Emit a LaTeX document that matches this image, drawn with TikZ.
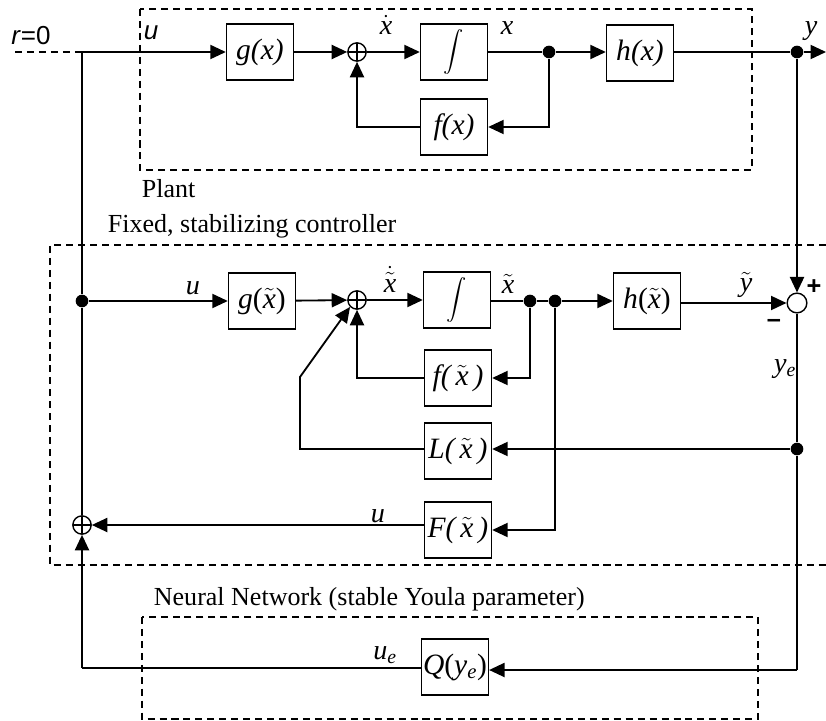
\documentclass[tikz,border=0pt]{standalone}
\usepackage{amsmath}
\usepackage{fontspec}
\setmainfont{Liberation Serif}
\setsansfont{Liberation Sans}
\usepackage{tikz}
\usetikzlibrary{arrows.meta, positioning, calc}

\newcommand{\vx}{\mbox{\itshape x}}
\newcommand{\xt}{\ensuremath{\tilde{\vx}}}
\newcommand{\sub}[1]{\textsubscript{\itshape #1}}

\tikzset{
  block/.style={draw, line width=1pt, minimum width=1.675cm, minimum height=1.4cm, inner sep=1pt, font=\fontsize{21}{24}\selectfont},
  sumplus/.style={draw, circle, line width=1pt, minimum size=13pt, inner sep=0pt,
    path picture={\draw [line width=1pt] (path picture bounding box.north) -- (path picture bounding box.south)
      (path picture bounding box.west) -- (path picture bounding box.east);}},
  sumopen/.style={draw, circle, line width=1pt, minimum size=14pt, inner sep=0pt},
  junc/.style={circle, fill, minimum size=9pt, inner sep=0pt},
  sig/.style={font=\fontsize{20}{24}\selectfont\itshape, inner sep=0pt},
  frame/.style={dash pattern=on 5pt off 3.5pt, line width=1pt},
  title/.style={font=\fontsize{18.5}{22}\selectfont, inner sep=0pt},
}

\begin{document}
\begin{tikzpicture}[x=0.025cm, y=-0.025cm, line width=1.3pt, >={Triangle[length=11pt,width=10pt]}]
\useasboundingbox (0,0) rectangle (826,721);

% plant
\draw [frame] (140,9) rectangle (752,170);
\node [title, anchor=north west] (plantlbl) at (141,179) {Plant};
\coordinate (r0) at (15,52);
\coordinate (uin) at (82,52);
\node [block] (g1) at (260,52) {\itshape g(x)};
\node [sumplus] (s1) at (357,52) {};
\node [block] (int1) at (454,52) {{\fontsize{14.5}{16}\selectfont$\displaystyle\int$}};
\node [junc] (d1) at (549,52) {};
\node [block] (h1) at (640,53) {\itshape h(x)};
\node [junc] (dy) at (797,52) {};
\coordinate (yend) at (826,52);
\node [block] (f1) at (454,127) {\itshape f(x)};

\draw [frame] (r0) -- (uin);
\draw [->] (uin) -- (g1);
\draw [->] (g1) -- (s1);
\draw [->] (s1) -- (int1);
\draw (int1) -- (d1);
\draw [->] (d1) -- (h1.west |- d1);
\draw (h1.east |- dy) -- (dy);
\draw [->] (dy) -- (yend);
\draw [->] (d1) |- (f1.east);
\draw [->] (f1.west) -| (s1.south);

\node [font=\fontsize{18.5}{22}\selectfont\sffamily, inner sep=0pt] (rlbl) at (31,36) {\textit{r}=0};
\node [font=\fontsize{18.5}{22}\selectfont\sffamily\itshape, inner sep=0pt] (ulbl1) at (151,33) {u};
\node [sig] (xdlbl) at (386,25) {$\dot{\vx}$};
\node [sig] (xlbl) at (507,28) {x};
\node [sig] (ylbl) at (811,31) {y};

% controller
\draw [frame] (826,245) -- (50,245) -- (50,565) -- (826,565);
\node [title, anchor=south west] (ctrllbl) at (107,239) {Fixed, stabilizing controller};
\node [junc] (dl) at (82,301) {};
\node [block] (g2) at (262,301) {\itshape g\upshape(\xt)};
\node [sumplus] (s2) at (357,300) {};
\node [block] (int2) at (457,300) {{\fontsize{14.5}{16}\selectfont$\displaystyle\int$}};
\node [junc] (d2a) at (530,301) {};
\node [junc] (d2b) at (555,301) {};
\node [block] (h2) at (647,301) {\itshape h\upshape(\xt)};
\node [sumopen] (s3) at (797,303) {};
\node [block] (f2) at (458,378) {\itshape f(\,\xt\,)};
\node [block] (l2) at (458,451) {\itshape L(\,\xt\,)};
\node [junc] (dr) at (797,449) {};
\node [block] (ff2) at (458,530) {\itshape F(\,\xt\,)};
\node [sumplus] (s4) at (82,525) {};
\coordinate (lbend) at (300,449);
\coordinate (lknee) at (300,377);

\draw (s4.north) -- (dl) -- (uin);
\draw [->] (dl) -- (g2);
\draw [->] (g2) -- (s2);
\draw [->] (s2) -- (int2);
\draw (int2.east |- d2a) -- (d2a) -- (d2b);
\draw [->] (d2b) -- (h2.west |- d2b);
\draw [->] (h2.east |- s3) -- (s3);
\draw [->] (dy) -- (s3.north);
\draw [->] (d2a) |- (f2.east);
\draw [->] (f2.west) -| (s2.south);
\draw (s3.south) -- (dr);
\draw [->] (dr) -- (l2.east |- dr);
\draw [->] (l2.west |- dr) -- (lbend) -- (lknee) -- (s2.south west);
\draw [->] (d2b) |- (ff2.east);
\draw [->] (ff2.west |- s4) -- (s4);

\node [sig] (ulbl2) at (193,288) {u};
\node [sig] (xddlbl) at (390,279) {$\dot{\xt}$};
\node [sig] (xtlbl) at (508,284) {\xt};
\node [sig] (ytlbl) at (746,285) {$\tilde{\mbox{\itshape y}}$};
\node [font=\fontsize{18}{20}\selectfont\sffamily\bfseries, inner sep=0pt] (plus) at (814,287) {+};
\node [font=\fontsize{18}{20}\selectfont\sffamily\bfseries, inner sep=0pt] (minus) at (774,323) {\textendash};
\node [sig] (yelbl) at (785,369) {y\sub{e}};
\node [sig] (ulbl3) at (378,516) {u};

% neural network
\draw [frame] (142,617) rectangle (758,719);
\node [title, anchor=south west] (nnlbl) at (153,612) {Neural Network (stable Youla parameter)};
\node [block, minimum width=1.65cm] (q) at (455,667) {\itshape Q\upshape(\itshape y\sub{e}\upshape)};
\coordinate (qr) at (797,670);
\coordinate (ql) at (82,668);
\draw (dr) -- (qr);
\draw [->] (qr) -- (q.east |- qr);
\draw (q.west |- ql) -- (ql);
\draw [->] (ql) -- (s4.south);
\node [sig] (uelbl) at (385,655) {u\sub{e}};
\end{tikzpicture}
\end{document}
